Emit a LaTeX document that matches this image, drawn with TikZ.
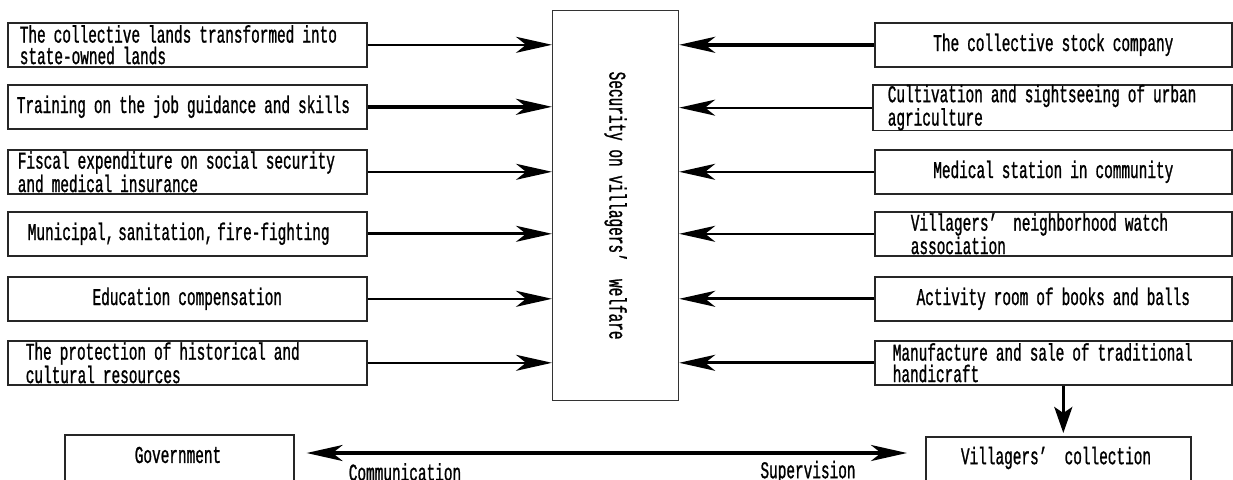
\documentclass[tikz,border=0pt]{standalone}
\usepackage{fontspec}
\setmainfont{Liberation Mono}[FakeStretch=0.6,FakeBold=1]
\usetikzlibrary{arrows.meta,calc}
\newcommand{\dfont}{\fontsize{24pt}{21.5pt}\selectfont}
\begin{document}
\begin{tikzpicture}[x=1pt,y=-1pt,
  box/.style={draw=black!85,line width=1.6pt,minimum height=44pt,inner ysep=0pt,anchor=north west,font=\dfont},
  lft/.style={box,minimum width=359pt,align=left},
  ctr/.style={box,minimum width=359pt,text width=339pt,inner xsep=10pt,align=center},
  rctr/.style={box,minimum width=357pt,text width=337pt,inner xsep=10pt,align=center},
  arr/.style={-{Stealth[length=36pt,width=16pt,inset=10pt]},black},
  lbl/.style={font=\dfont,inner sep=0pt}
]
\useasboundingbox (0,0) rectangle (1233,479);
\clip (0,0) rectangle (1233,479);
% central box
\node[draw=black!80,line width=1.2pt,minimum width=126pt,minimum height=390pt,anchor=north west,inner sep=0pt] (c) at (552,10) {};
\node[lbl,rotate=-90] (ctext) at (c.center) {Security on villagers’\ \ welfare};
% left boxes
\node[lft,text width=335pt,inner xsep=12pt] (L1) at (7,22) {The collective lands transformed into\\state-owned lands};
\node[lft,text width=341pt,inner xsep=9pt] (L2) at (7,84) {Training on the job guidance and skills};
\node[lft,text width=339pt,inner xsep=10pt] (L3) at (7,149) {Fiscal expenditure on social security\\and medical insurance};
\node[lft,text width=319pt,inner xsep=20pt] (L4) at (7,211) {Municipal,\,sanitation,\,fire-fighting};
\node[ctr] (L5) at (7,276) {Education compensation};
\node[lft,text width=323pt,inner xsep=18pt] (L6) at (7,340) {The protection of historical and\\cultural resources};
% right boxes
\node[rctr] (R1) at (874,22) {The collective stock company};
\node[lft,text width=329pt,inner xsep=15pt] (R2) at (872,84) {Cultivation and sightseeing of urban\\agriculture};
\node[rctr] (R3) at (874,149) {Medical station in community};
\node[box,minimum width=357pt,text width=285pt,inner xsep=36pt,align=left] (R4) at (874,211) {Villagers’\ \ neighborhood watch\\association};
\node[rctr] (R5) at (874,276) {Activity room of books and balls};
\node[box,minimum width=357pt,text width=321pt,inner xsep=18pt,align=left] (R6) at (874,340) {Manufacture and sale of traditional\\handicraft};
% bottom boxes
\node[box,minimum width=229pt,minimum height=60pt] (gov) at (64,434) {};
\node[lbl] (govt) at (178,455) {Government};
\node[box,minimum width=265pt,minimum height=60pt] (vc) at (925,436) {};
\node[lbl] (vct) at (1056,458) {Villagers’\ \ collection};
% left arrows
\draw[arr,line width=2.5pt] (L1.east) -- (L1.east -| c.west);
\draw[arr,line width=3.5pt] (L2.east) -- (L2.east -| c.west);
\draw[arr,line width=2.2pt] (L3.east) -- (L3.east -| c.west);
\draw[arr,line width=3pt] (L4.east) -- (L4.east -| c.west);
\draw[arr,line width=2.5pt] (L5.east) -- (L5.east -| c.west);
\draw[arr,line width=2.5pt] (L6.east) -- (L6.east -| c.west);
% right arrows
\draw[arr,line width=3.5pt] (R1.west) -- (R1.west -| c.east);
\draw[arr,line width=2.2pt] (R2.west) -- (R2.west -| c.east);
\draw[arr,line width=2.2pt] (R3.west) -- (R3.west -| c.east);
\draw[arr,line width=2.2pt] (R4.west) -- (R4.west -| c.east);
\draw[arr,line width=3pt] (R5.west) -- (R5.west -| c.east);
\draw[arr,line width=3pt] (R6.west) -- (R6.west -| c.east);
% down arrow
\draw[-{Stealth[length=26pt,width=18pt,inset=6pt]},line width=3pt] ($(R6.south)+(10,0)$) -- ($(vc.north)+(5,-3)$);
% bottom double arrow
\draw[{Stealth[length=36pt,width=16pt,inset=10pt]}-{Stealth[length=36pt,width=16pt,inset=10pt]},line width=3.5pt] ($(gov.north east)+(12,19)$) -- ($(vc.north west)+(-18,17)$);
\node[lbl] (comm) at (405,472) {Communication};
\node[lbl] (sup) at (808,472) {Supervision};
\end{tikzpicture}
\end{document}
